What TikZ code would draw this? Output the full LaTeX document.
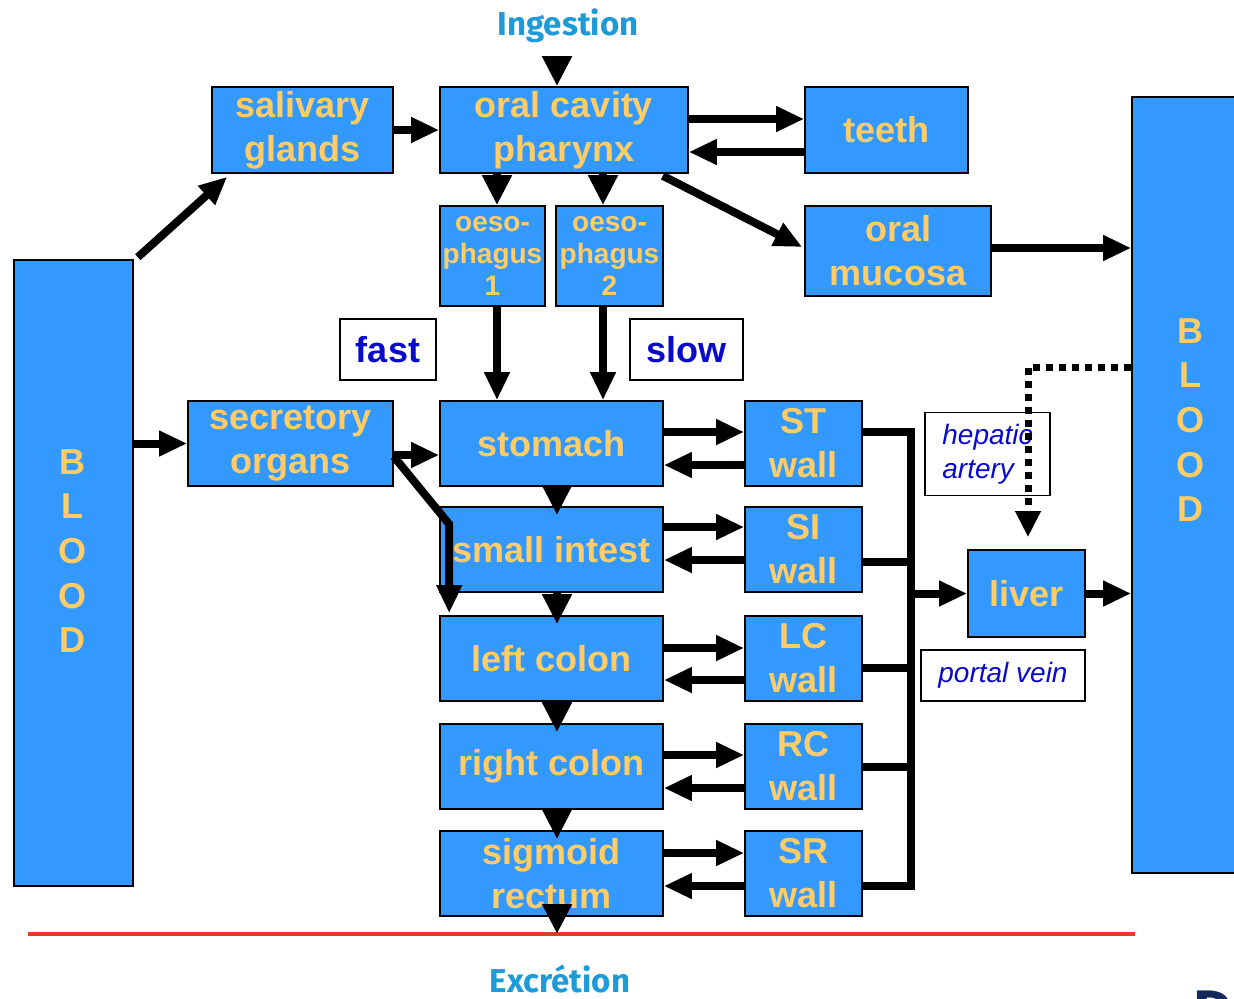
\documentclass[tikz,border=0pt]{standalone}
\usepackage{fontspec}
\setmainfont{Liberation Sans}
\newfontfamily\headfont{Fira Sans}
\usetikzlibrary{arrows.meta,calc}
\definecolor{boxblue}{HTML}{3399FF}
\definecolor{boxtext}{HTML}{FFCC66}
\definecolor{headblue}{HTML}{1E9AD6}
\definecolor{labelblue}{HTML}{0A0ACC}
\definecolor{redrule}{HTML}{E53A2C}
\definecolor{navy}{HTML}{13285C}
\begin{document}
\begin{tikzpicture}[x=0.5pt,y=-0.5pt,
  sz/.style 2 args={minimum width=#1*0.5pt, minimum height=#2*0.5pt},
  organ/.style={draw=black, line width=0.8pt, fill=boxblue, text=boxtext,
    inner sep=0pt, align=center, font=\fontsize{18}{22}\selectfont\bfseries},
  small/.style={font=\fontsize{14}{16}\selectfont\bfseries},
  letters/.style={text=boxtext, inner sep=0pt, align=center,
    font=\fontsize{18}{22.3}\selectfont\bfseries},
  tag/.style={draw=black, line width=0.8pt, fill=white, inner sep=0pt,
    text=labelblue, align=center},
  head/.style={text=headblue, inner sep=0pt, anchor=base,
    font=\headfont\bfseries\fontsize{16.5}{20}\selectfont},
  flow/.style={line width=4pt, -{Triangle[length=14pt,width=12pt]}},
  chev/.style={line width=4pt, -{Triangle[length=15pt,width=14pt]}},
  link/.style={line width=4pt, line join=miter},
]
\useasboundingbox (0,0) rectangle (1234,998);

% blood compartments
\node[organ, sz={119}{626}] (bloodL) at (73.5,573) {};
\node[letters] (bloodLtxt) at (72,551) {B\\L\\O\\O\\D};
\node[organ, sz={120}{776}] (bloodR) at (1192,485) {};
\node[letters] (bloodRtxt) at (1190,420) {B\\L\\O\\O\\D};

% upper tract
\node[organ, sz={181}{86}] (saliv) at (302.5,130) {salivary\\glands};
\node[organ, sz={248}{86}] (oral) at (564,130) {oral cavity\\pharynx};
\node[organ, sz={163}{86}] (teeth) at (886.5,130) {teeth};
\node[organ, sz={186}{90}] (mucosa) at (898,251) {oral\\mucosa};
\node[organ, small, sz={105}{100}] (oeso1) at (492.5,256) {oeso-\\phagus\\1};
\node[organ, small, sz={107}{100}] (oeso2) at (609.5,256) {oeso-\\phagus\\2};
\node[tag, sz={96}{61}, font=\fontsize{18}{22}\selectfont\bfseries] (fast) at (388,349.5) {fast};
\node[tag, sz={113}{61}, font=\fontsize{18}{22}\selectfont\bfseries] (slow) at (686.5,349.5) {slow};

% gut segments and their walls
\node[organ, sz={205}{85}] (secr) at (290.5,443.5) {secretory\\organs};
\node[organ, sz={223}{85}] (stom) at (551.5,443.5) {stomach};
\node[organ, sz={117}{85}] (STw) at (803.5,443.5) {ST\\wall};
\node[organ, sz={223}{85}] (sint) at (551.5,549.5) {small intest};
\node[organ, sz={117}{85}] (SIw) at (803.5,549.5) {SI\\wall};
\node[organ, sz={223}{85}] (lcol) at (551.5,658.5) {left colon};
\node[organ, sz={117}{85}] (LCw) at (803.5,658.5) {LC\\wall};
\node[organ, sz={223}{85}] (rcol) at (551.5,766.5) {right colon};
\node[organ, sz={117}{85}] (RCw) at (803.5,766.5) {RC\\wall};
\node[organ, sz={223}{85}] (sigm) at (551.5,873.5) {sigmoid\\rectum};
\node[organ, sz={117}{85}] (SRw) at (803.5,873.5) {SR\\wall};

% liver
\node[organ, sz={117}{87}] (liver) at (1026.5,593.5) {liver};
\node[tag, sz={125}{83}, align=left, font=\fontsize{14}{17}\selectfont\itshape] (hep) at (987.5,454) {hepatic\\artery};
\node[tag, sz={164}{51}, font=\fontsize{14}{17}\selectfont\itshape] (portal) at (1003,675.5) {portal vein};

% titles
\node[head] (ingest) at (568,35) {Ingestion};
\node[head] (excr) at (560,992) {Excrétion};
\node[anchor=north west, inner sep=0pt, text=navy,
  font=\headfont\bfseries\fontsize{30}{36}\selectfont] (cut) at (1193,983) {Di};

% excretion line
\coordinate (ruleL) at (28,934);
\coordinate (ruleR) at (1135,934);
\draw[redrule, line width=2pt] (ruleL) -- (ruleR);
\coordinate (outlet) at (557,934);

% intake
\draw[chev] ($(oral.north)+(-7,-30)$) -- ($(oral.north)+(-7,0)$);
\draw[flow] (saliv.east) -- (oral.west);
\draw[flow] ($(oral.east)+(0,-11)$) -- ($(teeth.west)+(0,-11)$);
\draw[flow] ($(teeth.west)+(0,22)$) -- ($(oral.east)+(0,22)$);
\draw[flow] ($(oral.south east)+(-26,2)$) -- ($(mucosa.west)+(-2,-4)$);
\draw[chev] ($(oral.south)+(-67,0)$) -- ($(oeso1.north)+(4.5,0)$);
\draw[chev] ($(oral.south)+(39,0)$) -- ($(oeso2.north)+(-6.5,0)$);
\draw[flow] ($(oeso1.south)+(4.5,0)$) -- ($(stom.north)+(-54.5,0)$);
\draw[flow] ($(oeso2.south)+(-6.5,0)$) -- ($(stom.north)+(51.5,0)$);

% from blood
\draw[flow] ($(bloodL.north east)+(4,-2)$) -- ($(saliv.south west)+(16,3)$);
\draw[flow] (bloodL.east |- secr.west) -- (secr.west);
\draw[flow] ($(secr.east)+(0,11.5)$) -- ($(stom.west)+(0,11.5)$);
\draw[flow, line join=miter] ($(secr.east)+(0,13)$) -- ($(lcol.north west)+(10,-91)$) -- ($(lcol.north west)+(10,-2)$);

% passage down the tract
\draw[chev] ($(stom.south)+(5.5,0)$) -- ($(sint.north)+(5.5,9)$);
\draw[chev] ($(sint.south)+(5.5,0)$) -- ($(lcol.north)+(5.5,9)$);
\draw[chev] ($(lcol.south)+(5.5,0)$) -- ($(rcol.north)+(5.5,9)$);
\draw[chev] ($(rcol.south)+(5.5,0)$) -- ($(sigm.north)+(5.5,9)$);
\draw[chev] ($(sigm.south)+(5.5,-10)$) -- (outlet);

% exchange with the walls
\draw[flow] ($(stom.east)+(0,-11.5)$) -- ($(STw.west)+(0,-11.5)$);
\draw[flow] ($(STw.west)+(0,21.5)$) -- ($(stom.east)+(0,21.5)$);
\draw[flow] ($(sint.east)+(0,-22.5)$) -- ($(SIw.west)+(0,-22.5)$);
\draw[flow] ($(SIw.west)+(0,10.5)$) -- ($(sint.east)+(0,10.5)$);
\draw[flow] ($(lcol.east)+(0,-10.5)$) -- ($(LCw.west)+(0,-10.5)$);
\draw[flow] ($(LCw.west)+(0,21.5)$) -- ($(lcol.east)+(0,21.5)$);
\draw[flow] ($(rcol.east)+(0,-11.5)$) -- ($(RCw.west)+(0,-11.5)$);
\draw[flow] ($(RCw.west)+(0,21.5)$) -- ($(rcol.east)+(0,21.5)$);
\draw[flow] ($(sigm.east)+(0,-20.5)$) -- ($(SRw.west)+(0,-20.5)$);
\draw[flow] ($(SRw.west)+(0,12.5)$) -- ($(sigm.east)+(0,12.5)$);

% portal collector
\draw[link] ($(STw.east)+(0,-11.5)$) -| ($(SRw.east)+(48,12.5)$) -- ($(SRw.east)+(0,12.5)$);
\draw[link] ($(SIw.east)+(0,12.5)$) -- ++(48,0);
\draw[link] ($(LCw.east)+(0,9.5)$) -- ++(48,0);
\draw[link] ($(RCw.east)+(0,0.5)$) -- ++(48,0);
\coordinate (junction) at (910,593.5);
\draw[flow] (junction) -- (liver.west);

% to systemic blood
\draw[flow] (liver.east) -- (liver.east -| bloodR.west);
\draw[flow] ($(mucosa.east)+(0,-3)$) -- ($(mucosa.east -| bloodR.west)+(0,-3)$);
\draw[line width=3.5pt, dash pattern=on 3.5pt off 3pt, -{Triangle[length=13pt,width=12pt]}]
  ($(bloodR.north west)+(0,271)$) -| ($(liver.north)+(1.5,-12)$);
\end{tikzpicture}
\end{document}
